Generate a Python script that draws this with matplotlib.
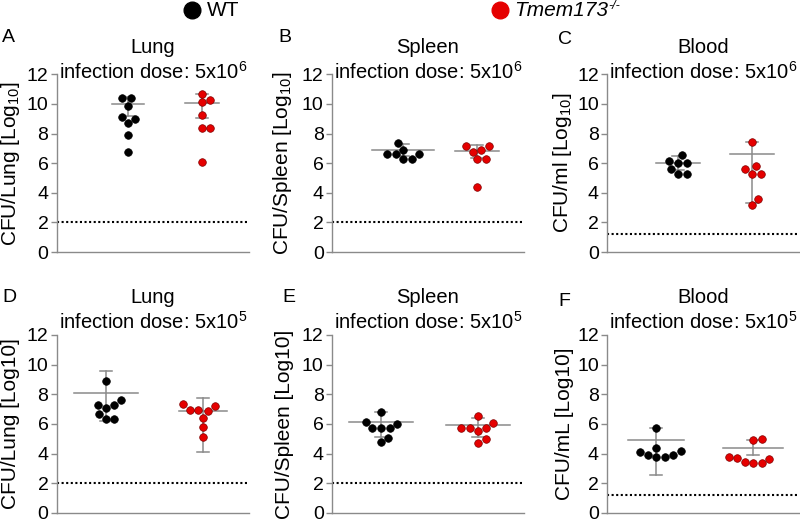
import numpy as np
import matplotlib
matplotlib.use('Agg')
import matplotlib.pyplot as plt

plt.rcParams['font.family'] = ['Liberation Sans', 'DejaVu Sans']
plt.rcParams['mathtext.fontset'] = 'custom'
plt.rcParams['mathtext.rm'] = 'Liberation Sans'
plt.rcParams['mathtext.it'] = 'Liberation Sans:italic'
plt.rcParams['mathtext.default'] = 'regular'

# ---- data (log10 CFU) ----
letters = ['A', 'B', 'C', 'D', 'E', 'F']
organs = ['Lung', 'Spleen', 'Blood', 'Lung', 'Spleen', 'Blood']
doses = ['5x10$^6$', '5x10$^6$', '5x10$^6$', '5x10$^5$', '5x10$^5$', '5x10$^5$']
ylabels = ['CFU/Lung [Log$_{10}$]', 'CFU/Spleen [Log$_{10}$]', 'CFU/ml [Log$_{10}$]',
           'CFU/Lung [Log10]', 'CFU/Spleen [Log10]', 'CFU/mL [Log10]']
det_limit = [2.0, 2.0, 1.2, 2.0, 2.0, 1.2]

wt_vals = [
    [10.42, 10.42, 9.87, 9.00, 9.13, 8.70, 7.92, 6.74],
    [6.59, 6.59, 6.25, 6.25, 7.33, 6.59, 6.90],
    [6.00, 5.60, 6.52, 6.16, 5.28, 5.28, 6.00],
    [7.64, 7.28, 7.28, 8.88, 7.08, 6.70, 6.36, 6.36],
    [6.02, 5.75, 5.75, 5.75, 6.16, 6.81, 5.08, 4.77],
    [4.36, 4.07, 3.87, 3.74, 3.78, 3.91, 4.16, 5.71],
]
ko_vals = [
    [10.27, 10.69, 10.11, 9.22, 8.37, 8.35, 6.07],
    [6.90, 7.15, 7.18, 6.27, 6.27, 6.77, 4.42],
    [5.80, 5.28, 5.28, 5.60, 7.44, 3.57, 3.15],
    [6.92, 6.90, 7.19, 7.33, 6.92, 6.43, 5.78, 5.12],
    [5.75, 5.69, 5.53, 5.75, 6.04, 6.56, 4.74, 5.01],
    [3.74, 3.42, 3.38, 3.38, 3.65, 3.71, 4.97, 4.88],
]
# mean line, upper and lower error bar ends
wt_mean = [10.00, 6.88, 6.02, 8.07, 6.16, 4.90]
wt_hi = [10.45, 7.27, 6.49, 9.55, 6.78, 5.71]
wt_lo = [9.15, 6.50, 5.55, 6.20, 5.13, 2.55]
ko_mean = [10.09, 6.84, 6.61, 6.90, 5.91, 4.39]
ko_hi = [10.65, 7.22, 7.42, 7.73, 6.40, 4.88]
ko_lo = [9.04, 6.38, 3.30, 4.09, 5.10, 3.90]

# ---- layout / style ----
W, H = 800, 523
lefts = [0.071, 0.415, 0.759]
bottoms = [0.518, 0.0195]
ax_w, ax_h = 0.24, 0.34
grp_x = [(0.37, 0.755), (0.255, 0.76)]
half_w = [(16, 17), (31, 22), (22, 22), (32, 24), (32, 32), (28, 30)]  # px
title_y = [(1.152, 1.012), (1.21, 1.075)]
ylab_x = [-0.18, -0.2, -0.173, -0.19, -0.2, -0.173]
GRAY = '#8a8a8a'
RED = '#e50000'
MS = 30
D_PX = 8.6
FS = 14


def swarm(vals_px, d):
    xs = np.zeros(len(vals_px))
    placed = []
    for i in np.argsort(vals_px):
        y = vals_px[i]
        cands = [0.0]
        for px, py in placed:
            dy = abs(y - py)
            if dy < d:
                dx = np.sqrt(d * d - dy * dy)
                cands += [px + dx, px - dx]
        cands.sort(key=abs)
        for c in cands:
            if all((c - px) ** 2 + (y - py) ** 2 >= d * d - 1e-6 for px, py in placed):
                xs[i] = c
                break
        placed.append((xs[i], y))
    return xs


fig = plt.figure(figsize=(W / 100, H / 100), dpi=100)

for k in range(6):
    row, col = divmod(k, 3)
    ax = fig.add_axes([lefts[col], bottoms[row], ax_w, ax_h])
    ax.set_xlim(0, 1)
    ax.set_ylim(0, 12)
    px_y = ax_h * H / 12.0
    px_x = ax_w * W

    groups = [(wt_vals[k], wt_mean[k], wt_hi[k], wt_lo[k], 'black', 'black'),
              (ko_vals[k], ko_mean[k], ko_hi[k], ko_lo[k], RED, '#800000')]
    for g, (vals, m, hi, lo, fc, ec) in enumerate(groups):
        xc = grp_x[row][g]
        hw = half_w[k][g] / px_x
        ax.plot([xc - hw, xc + hw], [m, m], color=GRAY, lw=1.1, zorder=2)
        ax.plot([xc, xc], [lo, hi], color=GRAY, lw=1.1, zorder=2)
        cw = 6 / px_x
        for e in (lo, hi):
            ax.plot([xc - cw, xc + cw], [e, e], color=GRAY, lw=1.1, zorder=2)
        v = np.array(vals)
        off = swarm(v * px_y, D_PX) / px_x
        ax.scatter(xc + off, v, s=MS, c=fc, edgecolors=ec, linewidths=0.5, zorder=3)

    ax.axhline(det_limit[k], color='black', lw=1.5, ls=(0, (1, 1.2)), zorder=1)

    ax.spines['top'].set_visible(False)
    ax.spines['right'].set_visible(False)
    for s in ('left', 'bottom'):
        ax.spines[s].set_color(GRAY)
        ax.spines[s].set_linewidth(1.0)
    ax.set_xticks([])
    ax.set_yticks(range(0, 13, 2))
    ax.tick_params(axis='y', colors=GRAY, labelcolor='black', labelsize=FS,
                   length=4, width=1.0, pad=2)
    ax.set_ylabel(ylabels[k], fontsize=15)
    ax.yaxis.set_label_coords(ylab_x[k], 0.5)

    ax.text(0.5, title_y[row][0], organs[k], transform=ax.transAxes,
            ha='center', va='center', fontsize=14.5)
    ax.text(0.5, title_y[row][1], 'infection dose: ' + doses[k], transform=ax.transAxes,
            ha='center', va='center', fontsize=14.5)

# panel letters
letter_pos = [(2, 38), (278, 38), (558, 40), (2, 298), (282, 298), (558, 302)]
for lt, (x, y) in zip(letters, letter_pos):
    fig.text(x / W, 1 - y / H, lt, fontsize=FS, ha='left', va='center')

# legend
lax = fig.add_axes([0, 0, 1, 1], zorder=-1)
lax.axis('off')
lax.set_xlim(0, W)
lax.set_ylim(H, 0)
lax.plot([192], [10], marker='o', ms=12, color='black')
lax.text(207, 10, 'WT', fontsize=15, va='center')
lax.plot([500], [10], marker='o', ms=12, color=RED)
t = lax.text(514, 10, 'Tmem173', fontsize=15, va='center', style='italic')
lax.annotate('-/-', xy=(1.0, 0.42), xycoords=t, fontsize=9, style='italic',
             ha='left', va='bottom')

fig.savefig('out.png', dpi=100)
